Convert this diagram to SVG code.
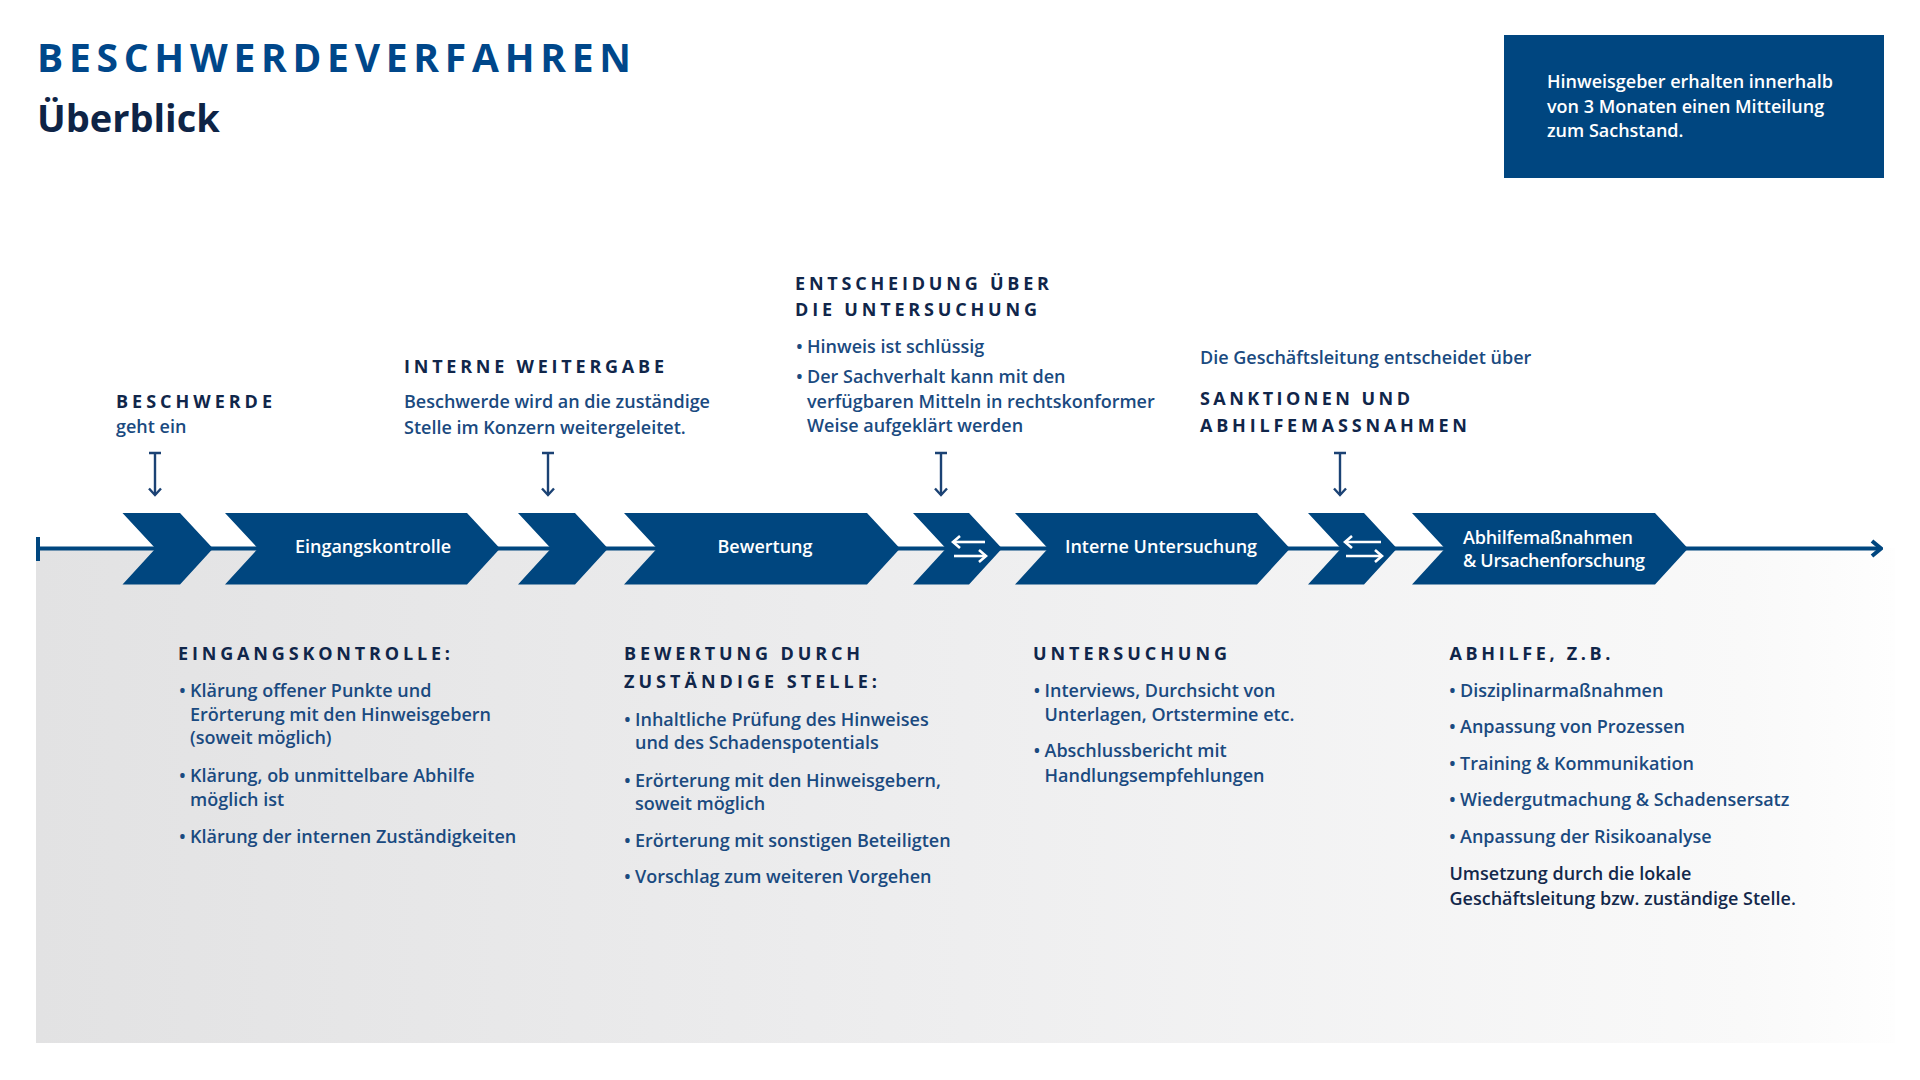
<svg xmlns="http://www.w3.org/2000/svg" width="1920" height="1080" viewBox="0 0 1920 1080">
<defs>
<linearGradient id="bg" x1="0" y1="0" x2="1" y2="0">
<stop offset="0" stop-color="#e2e2e3"/>
<stop offset="0.5" stop-color="#eeeeef"/>
<stop offset="0.92" stop-color="#f9f9f9"/>
<stop offset="1" stop-color="#fefefe"/>
</linearGradient>
<marker id="ahLine" markerUnits="userSpaceOnUse" viewBox="-12 -10 14 20" markerWidth="14" markerHeight="20" refX="0" refY="0" orient="auto">
<path d="M-9,-7.5 L0,0 L-9,7.5" fill="none" stroke="#00467f" stroke-width="4" stroke-linejoin="miter"/>
</marker>
<marker id="ahDown" markerUnits="userSpaceOnUse" viewBox="-10 -8 12 16" markerWidth="12" markerHeight="16" refX="0" refY="0" orient="auto">
<path d="M-6.5,-6 L0,0 L-6.5,6" fill="none" stroke="#1b4274" stroke-width="2.4"/>
</marker>
<marker id="ahWhite" markerUnits="userSpaceOnUse" viewBox="-10 -8 12 16" markerWidth="12" markerHeight="16" refX="0" refY="0" orient="auto">
<path d="M-7,-6 L0,0 L-7,6" fill="none" stroke="#ffffff" stroke-width="2.6"/>
</marker>
<style>
.f{font-family:"Open Sans","Noto Sans","Liberation Sans",sans-serif}
.h{font-family:"Open Sans","Noto Sans","Liberation Sans",sans-serif;font-weight:700;font-size:18px;fill:#10264a}
.t{font-family:"Open Sans","Noto Sans","Liberation Sans",sans-serif;font-weight:600;font-size:18px;fill:#1a4a80}
.dk{font-family:"Open Sans","Noto Sans","Liberation Sans",sans-serif;font-weight:600;font-size:18px;fill:#13284b}
.w{font-family:"Open Sans","Noto Sans","Liberation Sans",sans-serif;font-weight:600;font-size:18px;fill:#ffffff}
.chev{fill:#00467f}
.main{fill:none;stroke:#00467f;stroke-width:4}
.down{fill:none;stroke:#1b4274;stroke-width:2.4}
.swap{fill:none;stroke:#ffffff;stroke-width:2.6}
</style>
</defs>

<rect width="1920" height="1080" fill="#ffffff"/>
<rect id="band" x="36" y="548" width="1859" height="495" fill="url(#bg)"/>

<g id="header">
<text class="f" x="37" y="72" font-size="39" font-weight="700" fill="#00478a" textLength="594" lengthAdjust="spacing">BESCHWERDEVERFAHREN</text>
<text class="f" x="37" y="132" font-size="38" font-weight="700" fill="#0e2446">Überblick</text>
</g>

<g id="note-box">
<rect x="1504" y="35" width="380" height="143" fill="#004680"/>
<text class="w" font-size="17.5" x="1547" y="88">Hinweisgeber erhalten innerhalb</text>
<text class="w" font-size="17.5" x="1547" y="113">von 3 Monaten einen Mitteilung</text>
<text class="w" font-size="17.5" x="1547" y="137">zum Sachstand.</text>
</g>

<g id="connectors">
<path class="main" d="M38,548.5 H1881" marker-end="url(#ahLine)"/>
<path class="main" d="M38,537 V561"/>
<path class="down" d="M149,453 H161 M155,453 V495" marker-end="url(#ahDown)"/>
<path class="down" d="M542,453 H554 M548,453 V495" marker-end="url(#ahDown)"/>
<path class="down" d="M935,453 H947 M941,453 V495" marker-end="url(#ahDown)"/>
<path class="down" d="M1334,453 H1346 M1340,453 V495" marker-end="url(#ahDown)"/>
</g>

<g id="step-start">
<polygon class="chev" points="122.5,513 180,513 213,548.5 180,584.5 122.5,584.5 155.5,548.5"/>
</g>
<g id="step-eingangskontrolle">
<polygon class="chev" points="225,513 467,513 500,548.5 467,584.5 225,584.5 258,548.5"/>
<text class="w" x="373" y="553" text-anchor="middle">Eingangskontrolle</text>
</g>
<g id="step-weitergabe">
<polygon class="chev" points="518,513 575,513 608,548.5 575,584.5 518,584.5 551,548.5"/>
</g>
<g id="step-bewertung">
<polygon class="chev" points="624,513 867,513 900,548.5 867,584.5 624,584.5 657,548.5"/>
<text class="w" x="765" y="553" text-anchor="middle">Bewertung</text>
</g>
<g id="step-entscheidung">
<polygon class="chev" points="913,513 969,513 1002,548.5 969,584.5 913,584.5 946,548.5"/>
<path class="swap" d="M985,542 H953" marker-end="url(#ahWhite)"/>
<path class="swap" d="M954,556 H986" marker-end="url(#ahWhite)"/>
</g>
<g id="step-untersuchung">
<polygon class="chev" points="1015,513 1257,513 1290,548.5 1257,584.5 1015,584.5 1048,548.5"/>
<text class="w" x="1161" y="553" text-anchor="middle">Interne Untersuchung</text>
</g>
<g id="step-sanktionen">
<polygon class="chev" points="1308,513 1364,513 1397,548.5 1364,584.5 1308,584.5 1341,548.5"/>
<path class="swap" d="M1381,542 H1345" marker-end="url(#ahWhite)"/>
<path class="swap" d="M1346,556 H1382" marker-end="url(#ahWhite)"/>
</g>
<g id="step-abhilfe">
<polygon class="chev" points="1412,513 1655,513 1688,548.5 1655,584.5 1412,584.5 1445,548.5"/>
<text class="w" font-size="16.5" x="1463" y="544" textLength="170" lengthAdjust="spacing">Abhilfemaßnahmen</text>
<text class="w" font-size="16.5" x="1463" y="566.5" textLength="182" lengthAdjust="spacing">&amp; Ursachenforschung</text>
</g>

<g id="label-beschwerde">
<text class="h" x="116" y="408" textLength="156" lengthAdjust="spacing">BESCHWERDE</text>
<text class="t" x="116" y="433">geht ein</text>
</g>

<g id="label-weitergabe">
<text class="h" x="404" y="373" textLength="260" lengthAdjust="spacing">INTERNE WEITERGABE</text>
<text class="t" x="404" y="408">Beschwerde wird an die zuständige</text>
<text class="t" x="404" y="434">Stelle im Konzern weitergeleitet.</text>
</g>

<g id="label-entscheidung">
<text class="h" x="795" y="290" textLength="254" lengthAdjust="spacing">ENTSCHEIDUNG ÜBER</text>
<text class="h" x="795" y="316" textLength="242" lengthAdjust="spacing">DIE UNTERSUCHUNG</text>
<text class="t" y="353"><tspan x="796">•</tspan><tspan x="807">Hinweis ist schlüssig</tspan></text>
<text class="t" y="383"><tspan x="796">•</tspan><tspan x="807">Der Sachverhalt kann mit den</tspan></text>
<text class="t" x="807" y="408">verfügbaren Mitteln in rechtskonformer</text>
<text class="t" x="807" y="432">Weise aufgeklärt werden</text>
</g>

<g id="label-sanktionen">
<text class="t" x="1200" y="364">Die Geschäftsleitung entscheidet über</text>
<text class="h" x="1200" y="405" textLength="210" lengthAdjust="spacing">SANKTIONEN UND</text>
<text class="h" x="1200" y="432" textLength="267" lengthAdjust="spacing">ABHILFEMASSNAHMEN</text>
</g>

<g id="detail-eingangskontrolle">
<text class="h" x="178" y="660" textLength="272" lengthAdjust="spacing">EINGANGSKONTROLLE:</text>
<text class="t" y="697"><tspan x="179">•</tspan><tspan x="190">Klärung offener Punkte und</tspan></text>
<text class="t" x="190" y="721">Erörterung mit den Hinweisgebern</text>
<text class="t" x="190" y="744">(soweit möglich)</text>
<text class="t" y="782"><tspan x="179">•</tspan><tspan x="190">Klärung, ob unmittelbare Abhilfe</tspan></text>
<text class="t" x="190" y="806">möglich ist</text>
<text class="t" y="843"><tspan x="179">•</tspan><tspan x="190">Klärung der internen Zuständigkeiten</tspan></text>
</g>

<g id="detail-bewertung">
<text class="h" x="624" y="660" textLength="236" lengthAdjust="spacing">BEWERTUNG DURCH</text>
<text class="h" x="624" y="688" textLength="253" lengthAdjust="spacing">ZUSTÄNDIGE STELLE:</text>
<text class="t" y="726"><tspan x="624">•</tspan><tspan x="635">Inhaltliche Prüfung des Hinweises</tspan></text>
<text class="t" x="635" y="749">und des Schadenspotentials</text>
<text class="t" y="787"><tspan x="624">•</tspan><tspan x="635">Erörterung mit den Hinweisgebern,</tspan></text>
<text class="t" x="635" y="810">soweit möglich</text>
<text class="t" y="847"><tspan x="624">•</tspan><tspan x="635">Erörterung mit sonstigen Beteiligten</tspan></text>
<text class="t" y="883"><tspan x="624">•</tspan><tspan x="635">Vorschlag zum weiteren Vorgehen</tspan></text>
</g>

<g id="detail-untersuchung">
<text class="h" x="1033" y="660" textLength="194" lengthAdjust="spacing">UNTERSUCHUNG</text>
<text class="t" y="697"><tspan x="1033.5">•</tspan><tspan x="1044.5">Interviews, Durchsicht von</tspan></text>
<text class="t" x="1044.5" y="721">Unterlagen, Ortstermine etc.</text>
<text class="t" y="757"><tspan x="1033.5">•</tspan><tspan x="1044.5">Abschlussbericht mit</tspan></text>
<text class="t" x="1044.5" y="782">Handlungsempfehlungen</text>
</g>

<g id="detail-abhilfe">
<text class="h" x="1449.5" y="660" textLength="161" lengthAdjust="spacing">ABHILFE, Z.B.</text>
<text class="t" y="697"><tspan x="1449">•</tspan><tspan x="1460">Disziplinarmaßnahmen</tspan></text>
<text class="t" y="733"><tspan x="1449">•</tspan><tspan x="1460">Anpassung von Prozessen</tspan></text>
<text class="t" y="770"><tspan x="1449">•</tspan><tspan x="1460">Training &amp; Kommunikation</tspan></text>
<text class="t" y="806"><tspan x="1449">•</tspan><tspan x="1460">Wiedergutmachung &amp; Schadensersatz</tspan></text>
<text class="t" y="843"><tspan x="1449">•</tspan><tspan x="1460">Anpassung der Risikoanalyse</tspan></text>
<text class="dk" x="1449.5" y="880">Umsetzung durch die lokale</text>
<text class="dk" x="1449.5" y="905">Geschäftsleitung bzw. zuständige Stelle.</text>
</g>
</svg>
